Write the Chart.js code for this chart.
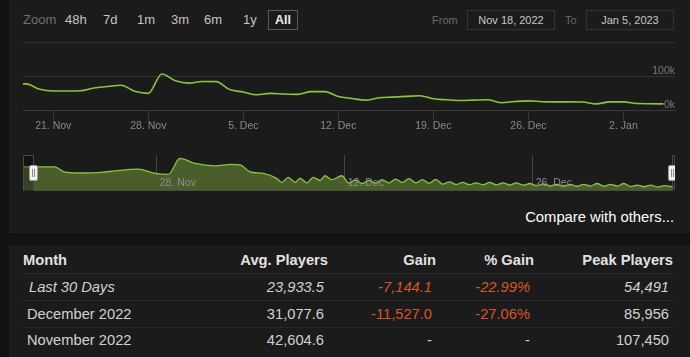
<!DOCTYPE html>
<html>
<head>
<meta charset="utf-8">
<script src="https://cdn.jsdelivr.net/npm/chart.js@4.4.1/dist/chart.umd.min.js"></script>
<style>
  html,body{margin:0;padding:0;}
  body{width:690px;height:357px;background:#121212;position:relative;overflow:hidden;font-family:"Liberation Sans",Arial,sans-serif;}
  .panel{position:absolute;background:#1b1b1b;}
  .t{position:absolute;white-space:nowrap;}
  .box{position:absolute;box-sizing:border-box;border:1px solid #353535;}
  canvas{position:absolute;left:0;}
</style>
</head>
<body>
<script>
// ---------- DATA ----------
// x values are days since 18 Nov 2022 00:00
const mainDays = [0.77, 1, 2, 3, 4, 5, 6, 7, 8, 9, 10, 11, 12, 13, 14, 15, 16, 17, 18, 19, 20, 21, 22, 23, 24, 25, 26, 27, 28, 29, 30, 31, 32, 33, 34, 35, 36, 37, 38, 39, 40, 41, 42, 43, 44, 45, 46, 47, 47.95];
const mainPlayers = [79000, 79000, 63000, 58000, 58000, 58500, 67000, 71000, 75000, 57000, 51000, 108000, 88000, 81000, 86000, 85500, 62000, 55000, 47000, 51000, 49000, 48000, 56000, 56000, 42000, 36000, 31000, 38000, 40000, 42000, 44000, 35000, 32000, 30000, 31000, 32000, 23500, 27000, 29000, 26500, 26000, 26000, 25500, 20000, 26000, 26000, 21000, 20500, 20000];

const navDays = [0.05, 2.4, 3.17, 4.42, 5.9, 6.9, 8.6, 9.87, 10.86, 11.73, 12.85, 14.34, 15.58, 16.2, 16.95, 17.94, 18.93, 19.31, 19.8, 20.3, 20.67, 21.17, 21.66, 22.16, 22.53, 23.03, 23.78, 24.3, 24.78, 25.3, 25.78, 26.3, 26.78, 27.3, 27.78, 28.3, 28.78, 29.3, 29.78, 30.3, 30.78, 31.3, 31.78, 32.3, 32.78, 33.3, 33.78, 34.3, 34.78, 35.3, 35.78, 36.3, 36.78, 37.3, 37.78, 38.3, 38.78, 39.3, 39.78, 40.3, 40.78, 41.3, 41.78, 42.3, 42.78, 43.3, 43.78, 44.3, 44.78, 45.3, 45.78, 46.3, 46.78, 47.3, 47.78, 48.5];
const navPlayers = [83600, 83600, 68000, 65500, 67500, 72000, 77000, 64500, 61500, 108000, 93500, 86500, 90500, 89500, 69000, 64500, 50000, 38000, 53000, 38500, 50000, 37000, 53000, 44000, 57500, 46000, 57500, 36000, 45000, 35000, 44000, 36000, 46000, 37000, 48000, 38000, 49000, 37000, 46000, 36000, 47000, 33000, 40000, 32000, 38000, 31500, 37000, 31500, 38000, 31000, 37000, 30500, 37000, 30000, 35000, 28500, 34000, 27500, 32500, 27000, 32500, 27000, 32500, 27500, 35000, 27000, 32500, 27500, 35000, 26000, 30500, 25500, 30500, 25000, 28500, 25000];

const mainTickDays = [3, 10, 17, 24, 31, 38, 45];
const mainTickLabels = ['21. Nov', '28. Nov', '5. Dec', '12. Dec', '19. Dec', '26. Dec', '2. Jan'];
const yTickValues = [0, 100000, 200000];
const yTickLabels = ['0k', '100k', ''];
const navTickDays = [10, 24, 38];
const navTickLabels = ['28. Nov', '12. Dec', '26. Dec'];
const navSelection = [0.77, 48.35];

const zoomButtons = ['48h', '7d', '1m', '3m', '6m', '1y', 'All'];
const dateFrom = 'Nov 18, 2022';
const dateTo = 'Jan 5, 2023';

const tableHeaders = ['Month', 'Avg. Players', 'Gain', '% Gain', 'Peak Players'];
const months = ['Last 30 Days', 'December 2022', 'November 2022'];
const avgPlayers = ['23,933.5', '31,077.6', '42,604.6'];
const gains = ['-7,144.1', '-11,527.0', '-'];
const pctGains = ['-22.99%', '-27.06%', '-'];
const peakPlayers = ['54,491', '85,956', '107,450'];
</script>

<div class="panel" style="left:9px;top:0;width:681px;height:233px;"></div>
<div class="panel" style="left:9px;top:245px;width:681px;height:112px;"></div>
<div id="ui"></div>
<canvas id="main" width="690" height="110" style="top:30px"></canvas>
<canvas id="nav" width="690" height="45" style="top:150px"></canvas>

<script>
const ui = document.getElementById('ui');
function addText(txt, css) {
  const d = document.createElement('div');
  d.className = 't';
  d.textContent = txt;
  d.style.cssText = css;
  ui.appendChild(d);
  return d;
}
function addBox(css) {
  const d = document.createElement('div');
  d.className = 'box';
  d.style.cssText = css;
  ui.appendChild(d);
}
// range selector
addText('Zoom', 'left:23px;top:11px;line-height:18px;font-size:13px;color:#707070;');
const btnLeft = [65, 103, 137, 171, 204, 243];
zoomButtons.slice(0, 6).forEach((b, i) => addText(b, `left:${btnLeft[i]}px;top:11px;line-height:18px;font-size:13px;color:#c4c4c4;`));
addBox('left:268px;top:10px;width:30px;height:20px;border-color:#5a5a5a;');
addText(zoomButtons[6], 'left:268px;top:11px;width:30px;text-align:center;line-height:18px;font-size:12.5px;font-weight:bold;color:#f0f0f0;');
addText('From', 'left:432px;top:11px;line-height:18px;font-size:11px;color:#6a6a6a;');
addBox('left:467px;top:10px;width:88px;height:20px;');
addText(dateFrom, 'left:467px;top:11px;width:88px;text-align:center;line-height:18px;font-size:11px;color:#c8c8c8;');
addText('To', 'left:565px;top:11px;line-height:18px;font-size:11px;color:#6a6a6a;');
addBox('left:586px;top:10px;width:88px;height:20px;');
addText(dateTo, 'left:586px;top:11px;width:88px;text-align:center;line-height:18px;font-size:11px;color:#c8c8c8;');

addText('Compare with others...', 'right:16px;top:207px;line-height:20px;font-size:14.8px;color:#ffffff;');

// table
const rightEdgesHead = [null, 328, 436, 534, 673];
const rightEdgesRow = [null, 324, 432, 530, 669];
tableHeaders.forEach((h, i) => {
  if (i === 0) addText(h, 'left:23px;top:247px;line-height:27px;font-size:14.7px;font-weight:bold;color:#e2e2e2;');
  else addText(h, `right:${690 - rightEdgesHead[i]}px;top:247px;line-height:27px;font-size:14.7px;font-weight:bold;color:#e2e2e2;`);
});
const rowTops = [274, 300.5, 326.5];
[273, 300, 327].forEach(y => {
  const l = document.createElement('div');
  l.style.cssText = `position:absolute;left:23px;width:652px;top:${y}px;height:1px;background:#2a2a2a;`;
  ui.appendChild(l);
});
months.forEach((m, r) => {
  const it = r === 0 ? 'font-style:italic;' : '';
  const base = `top:${rowTops[r]}px;line-height:27px;font-size:14.7px;${it}`;
  addText(m, `left:${r === 0 ? 29 : 27}px;${base}color:#d2d2d2;`);
  addText(avgPlayers[r], `right:${690 - rightEdgesRow[1]}px;${base}color:#d2d2d2;`);
  const red = gains[r] !== '-';
  addText(gains[r], `right:${690 - rightEdgesRow[2]}px;${base}color:${red ? '#d9542b' : '#d2d2d2'};`);
  addText(pctGains[r], `right:${690 - rightEdgesRow[3]}px;${base}color:${red ? '#d9542b' : '#d2d2d2'};`);
  addText(peakPlayers[r], `right:${690 - rightEdgesRow[4]}px;${base}color:#d2d2d2;`);
});

// ---------- CHARTS ----------
Chart.defaults.font.family = '"Liberation Sans", Arial, sans-serif';
Chart.defaults.animation = false;

const mainChart = new Chart(document.getElementById('main'), {
  type: 'line',
  data: {
    datasets: [{
      data: mainDays.map((d, i) => ({ x: d, y: mainPlayers[i] })),
      borderColor: '#8cc43f',
      borderWidth: 1.6,
      pointRadius: 0,
      cubicInterpolationMode: 'monotone',
      fill: false
    }]
  },
  options: {
    responsive: false,
    layout: { padding: { left: 23, top: 12.7, right: 0, bottom: 0 } },
    plugins: { legend: { display: false }, tooltip: { enabled: false } },
    scales: {
      x: {
        type: 'linear',
        min: 0.77, max: 48.8,
        afterBuildTicks: s => { s.ticks = mainTickDays.map(v => ({ value: v })); },
        afterFit: s => { s.height = 29.3; },
        ticks: {
          callback: (v) => mainTickLabels[mainTickDays.indexOf(v)],
          color: '#8a8a8a', font: { size: 10.5 }, padding: 0, maxRotation: 0, autoSkip: false
        },
        grid: { drawOnChartArea: false, drawTicks: true, tickLength: 9, color: '#393939' },
        border: { display: true, color: '#393939' }
      },
      y: {
        position: 'right',
        min: 0, max: 200000,
        afterBuildTicks: s => { s.ticks = yTickValues.map(v => ({ value: v })); },
        afterFit: s => { s.width = 15; },
        ticks: {
          mirror: true, padding: 0, labelOffset: -6,
          callback: (v) => yTickLabels[yTickValues.indexOf(v)],
          color: '#7a7a7a', font: { size: 10.5 }
        },
        grid: { color: '#333333', drawTicks: false },
        border: { display: false }
      }
    }
  }
});

const navPlugin = {
  id: 'navExtras',
  afterDraw(chart) {
    const { ctx, chartArea: a, scales: { x } } = chart;
    const xs = Math.round(x.getPixelForValue(navSelection[0])) + 0.5;
    const xe = Math.round(x.getPixelForValue(navSelection[1])) + 0.5;
    ctx.save();
    // mask outside the selection
    ctx.fillStyle = 'rgba(0,0,0,0.28)';
    ctx.fillRect(a.left, a.top, xs - a.left, a.bottom - a.top);
    ctx.fillRect(xe, a.top, a.right - xe, a.bottom - a.top);
    // labels
    ctx.font = '10.5px "Liberation Sans", Arial, sans-serif';
    ctx.fillStyle = '#8e8e8e';
    ctx.textBaseline = 'middle';
    ctx.textAlign = 'left';
    x.ticks.forEach((t) => {
      const i = navTickDays.indexOf(t.value);
      ctx.fillText(navTickLabels[i], x.getPixelForValue(t.value) + 3, a.top + 28.5);
    });
    // outline
    ctx.strokeStyle = '#4a4a4a';
    ctx.lineWidth = 1;
    const top = Math.round(a.top) + 0.5, bot = Math.round(a.bottom) - 0.5;
    ctx.beginPath();
    ctx.moveTo(a.left + 0.5, bot);
    ctx.lineTo(a.left + 0.5, top);
    ctx.lineTo(xs, top);
    ctx.lineTo(xs, bot);
    ctx.lineTo(xe, bot);
    ctx.lineTo(xe, top);
    ctx.lineTo(a.right - 0.5, top);
    ctx.lineTo(a.right - 0.5, bot);
    ctx.stroke();
    // handles
    ctx.beginPath();
    ctx.rect(a.left, 0, a.right - a.left, chart.height);
    ctx.clip();
    const cy = Math.round((a.top + a.bottom) / 2);
    [xs, xe].forEach(hx => {
      ctx.fillStyle = '#f2f2f2';
      ctx.strokeStyle = '#9a9a9a';
      ctx.beginPath();
      ctx.roundRect(hx - 4, cy - 7.5, 8, 15, 1.5);
      ctx.fill();
      ctx.stroke();
      ctx.strokeStyle = '#8a8a8a';
      ctx.beginPath();
      ctx.moveTo(hx - 1, cy - 4); ctx.lineTo(hx - 1, cy + 4);
      ctx.moveTo(hx + 1, cy - 4); ctx.lineTo(hx + 1, cy + 4);
      ctx.stroke();
    });
    ctx.restore();
  }
};

const navChart = new Chart(document.getElementById('nav'), {
  type: 'line',
  data: {
    datasets: [{
      data: navDays.map((d, i) => ({ x: d, y: navPlayers[i] })),
      borderColor: '#8cc43f',
      borderWidth: 1.3,
      backgroundColor: '#4a5e2b',
      pointRadius: 0,
      cubicInterpolationMode: 'monotone',
      fill: 'start'
    }]
  },
  options: {
    responsive: false,
    layout: { padding: { left: 23, top: 5, right: 15, bottom: 0 } },
    plugins: { legend: { display: false }, tooltip: { enabled: false } },
    scales: {
      x: {
        type: 'linear',
        min: 0.045, max: 48.59,
        afterBuildTicks: s => { s.ticks = navTickDays.map(v => ({ value: v })); },
        afterFit: s => { s.height = 4.3; },
        ticks: { display: false },
        grid: { drawOnChartArea: true, drawTicks: false, color: '#444444' },
        border: { display: false }
      },
      y: { display: false, min: 14000, max: 118000 }
    }
  },
  plugins: [navPlugin]
});
</script>
</body>
</html>
